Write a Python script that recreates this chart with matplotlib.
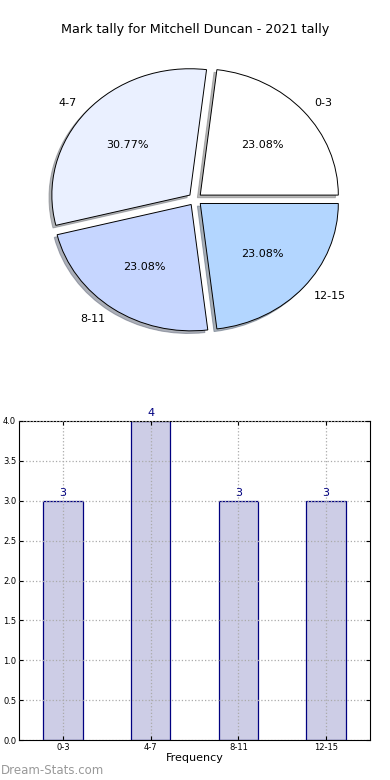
import matplotlib
matplotlib.use('Agg')
import matplotlib.pyplot as plt

labels = ['0-3', '4-7', '8-11', '12-15']
counts = [3, 4, 3, 3]
pie_colors = ['#ffffff', '#eaf0ff', '#c6d6ff', '#b3d6ff']

fig = plt.figure(figsize=(3.9, 7.8), dpi=100)
fig.text(0.5, 1 - 30 / 780, 'Mark tally for Mitchell Duncan - 2021 tally',
         ha='center', va='center', fontsize=9.2)

# pie (axes not square, so pie is a bit wider than tall like the original)
ax1 = fig.add_axes([0.0577, 0.542, 0.885, 0.405])
ax1.pie(counts, labels=labels, colors=pie_colors, autopct='%.2f%%',
        explode=[0.05] * 4, shadow={'ox': -0.015, 'oy': -0.015, 'shade': 0.55},
        startangle=0, counterclock=True,
        wedgeprops={'edgecolor': 'black', 'linewidth': 0.7},
        textprops={'fontsize': 8})
ax1.set_aspect('auto')

# bars
ax2 = fig.add_axes([19 / 390, 40 / 780, 351 / 390, 319 / 780])
x = range(len(labels))
ax2.bar(x, counts, width=0.45, color='#cdcde6', edgecolor='#000080', linewidth=0.9, zorder=2)
for i, c in enumerate(counts):
    ax2.text(i, c + 0.04, str(c), ha='center', va='bottom', color='#000080', fontsize=8)
ax2.set_xlim(-0.5, 3.5)
ax2.set_ylim(0, 4)
ax2.set_xticks(list(x))
ax2.set_xticklabels(labels, fontsize=6)
ax2.set_yticks([0, 0.5, 1, 1.5, 2, 2.5, 3, 3.5, 4])
ax2.set_yticklabels(['0.0', '0.5', '1.0', '1.5', '2.0', '2.5', '3.0', '3.5', '4.0'], fontsize=6)
ax2.tick_params(direction='in', top=True, right=True, length=3, pad=2)
ax2.grid(True, linestyle=':', color='#aaaaaa', linewidth=0.9, zorder=3)
ax2.set_axisbelow(False)
ax2.set_xlabel('Frequency', fontsize=8, labelpad=1)

fig.text(0.003, 10 / 780, 'Dream-Stats.com', fontsize=8.5, color='#999999',
         ha='left', va='center')

fig.savefig('out.png', dpi=100)
